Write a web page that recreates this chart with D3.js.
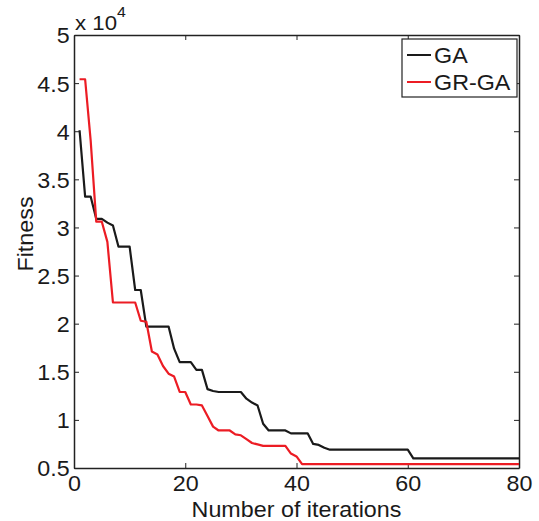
<!DOCTYPE html>
<html>
<head>
<meta charset="utf-8">
<script src="https://cdn.jsdelivr.net/npm/d3@7"></script>
<style>
  body { margin: 0; background: #fff; }
  text { font-family: "Liberation Sans", Arial, sans-serif; fill: #1a1a1a; }
</style>
</head>
<body>
<div id="chart"></div>
<script>
// iterations 1..80
const iterations = d3.range(1, 81);

// GA fitness per iteration
const gaValues = [
  40100, 33200, 33200, 30900, 30900, 30500, 30200, 28000, 28000, 28000,
  23500, 23500, 19700, 19700, 19700, 19700, 19700, 17400, 16000, 16000,
  16000, 15200, 15200, 13200, 13000, 12900, 12900, 12900, 12900, 12900,
  12200, 11800, 11500, 9600, 8900, 8900, 8900, 8900, 8600, 8600,
  8600, 8600, 7500, 7400, 7100, 6900, 6900, 6900, 6900, 6900,
  6900, 6900, 6900, 6900, 6900, 6900, 6900, 6900, 6900, 6900,
  6000, 6000, 6000, 6000, 6000, 6000, 6000, 6000, 6000, 6000,
  6000, 6000, 6000, 6000, 6000, 6000, 6000, 6000, 6000, 6000
];

// GR-GA fitness per iteration
const grgaValues = [
  45400, 45400, 39000, 30600, 30600, 28500, 22200, 22200, 22200, 22200,
  22200, 20300, 20200, 17100, 16800, 15600, 14800, 14500, 12900, 12900,
  11600, 11600, 11500, 10400, 9300, 8900, 8900, 8900, 8500, 8400,
  8000, 7600, 7450, 7300, 7300, 7300, 7300, 7300, 6500, 6200,
  5400, 5400, 5400, 5400, 5400, 5400, 5400, 5400, 5400, 5400,
  5400, 5400, 5400, 5400, 5400, 5400, 5400, 5400, 5400, 5400,
  5400, 5400, 5400, 5400, 5400, 5400, 5400, 5400, 5400, 5400,
  5400, 5400, 5400, 5400, 5400, 5400, 5400, 5400, 5400, 5400
];

const seriesNames = ["GA", "GR-GA"];
const seriesColors = ["#1a1a1a", "#ec1c24"];
const xTicks = [0, 20, 40, 60, 80];
const yTicks = [5000, 10000, 15000, 20000, 25000, 30000, 35000, 40000, 45000, 50000];

const width = 539, height = 521;
const m = { left: 74, right: 519, top: 35, bottom: 468 };
const fs = 22, sx = 1.06; // figure text is a bit wider than the font

const svg = d3.select("#chart").append("svg")
  .attr("width", width)
  .attr("height", height);

const x = d3.scaleLinear().domain([0, 80]).range([m.left, m.right]);
const y = d3.scaleLinear().domain([5000, 50000]).range([m.bottom, m.top]);

const fmtY = d => String(d / 10000);

// axes with inward ticks, MATLAB style
const xAxis = svg.append("g")
  .attr("transform", `translate(0,${m.bottom})`)
  .call(d3.axisBottom(x).tickValues(xTicks).tickSizeInner(-5).tickSizeOuter(0).tickPadding(3));
const xTop = svg.append("g")
  .attr("transform", `translate(0,${m.top})`)
  .call(d3.axisTop(x).tickValues(xTicks).tickSizeInner(-5).tickSizeOuter(0).tickFormat(""));
const yAxis = svg.append("g")
  .attr("transform", `translate(${m.left},0)`)
  .call(d3.axisLeft(y).tickValues(yTicks).tickSizeInner(-5).tickSizeOuter(0).tickFormat(fmtY).tickPadding(4));
const yRight = svg.append("g")
  .attr("transform", `translate(${m.right},0)`)
  .call(d3.axisRight(y).tickValues(yTicks).tickSizeInner(-5).tickSizeOuter(0).tickFormat(""));

[xAxis, xTop, yAxis, yRight].forEach(g => {
  g.select(".domain").attr("stroke", "#222").attr("stroke-width", 1.5);
  g.selectAll(".tick line").attr("stroke", "#222").attr("stroke-width", 1);
  g.selectAll(".tick text")
    .attr("font-family", "Liberation Sans, Arial, sans-serif")
    .attr("font-size", fs)
    .attr("fill", "#1a1a1a")
    .attr("transform", `scale(${sx},1)`);
});
xAxis.selectAll(".tick text").attr("dy", "0.9em");
yAxis.selectAll(".tick text").attr("dy", "0.36em");

// exponent label
const expo = svg.append("text")
  .attr("transform", `translate(${m.left + 1},30) scale(${sx},1)`)
  .attr("font-size", 21);
expo.append("tspan").text("x 10");
expo.append("tspan").attr("dy", -13).attr("font-size", 15).text("4");

// lines
const line = d3.line()
  .x((d, i) => x(iterations[i]))
  .y(d => y(d));

svg.append("path")
  .datum(gaValues)
  .attr("d", line)
  .attr("fill", "none")
  .attr("stroke", seriesColors[0])
  .attr("stroke-width", 2.2)
  .attr("stroke-linejoin", "round");

svg.append("path")
  .datum(grgaValues)
  .attr("d", line)
  .attr("fill", "none")
  .attr("stroke", seriesColors[1])
  .attr("stroke-width", 2.2)
  .attr("stroke-linejoin", "round");

// axis titles
svg.append("text")
  .attr("transform", `translate(${(m.left + m.right) / 2},517) scale(${sx},1)`)
  .attr("text-anchor", "middle")
  .attr("font-size", fs)
  .text("Number of iterations");

svg.append("text")
  .attr("transform", `translate(33,234) rotate(-90) scale(${sx},1)`)
  .attr("text-anchor", "middle")
  .attr("font-size", fs)
  .text("Fitness");

// legend
const legend = svg.append("g");
legend.append("rect")
  .attr("x", 402).attr("y", 39)
  .attr("width", 115).attr("height", 58)
  .attr("fill", "#fff")
  .attr("stroke", "#222")
  .attr("stroke-width", 1.2);

seriesNames.forEach((name, i) => {
  const ly = 55 + i * 27;
  legend.append("line")
    .attr("x1", 407).attr("x2", 431)
    .attr("y1", ly).attr("y2", ly)
    .attr("stroke", seriesColors[i])
    .attr("stroke-width", 2);
  legend.append("text")
    .attr("transform", `translate(434,${ly + 8}) scale(${sx},1)`)
    .attr("font-size", fs)
    .text(name);
});
</script>
</body>
</html>
